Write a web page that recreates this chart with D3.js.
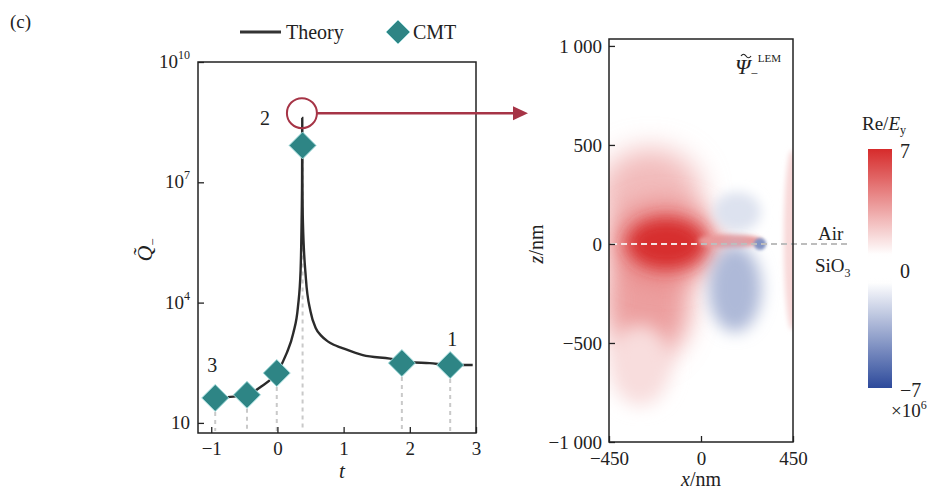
<!DOCTYPE html>
<html><head><meta charset="utf-8">
<script src="https://cdn.jsdelivr.net/npm/d3@7/dist/d3.min.js"></script>
<style>
body{margin:0;background:#fff;}
text{font-family:"Liberation Serif","Times New Roman",serif;fill:#222;}
</style></head><body>
<svg id="c" width="932" height="491"></svg>
<script>
// ---------- data ----------
const theoryT = [-1.0,-0.75,-0.46,-0.25,0.0,0.14,0.24,0.31,0.35,0.365,0.372,0.375,0.378,0.385,0.43,0.5,0.58,0.66,0.76,0.85,0.95,1.29,1.70,2.0,2.30,2.61,2.95];
const theoryQ = [40,44,50,80,190,550,1740,7800,6.3e4,1e6,1e7,4e8,1e7,1e6,4e4,6000,2300,1500,1080,890,770,490,400,330,310,277,277];
const cmtT = [-0.94,-0.46,-0.01,0.38,1.88,2.61];
const cmtQ = [42,50,175,8.3e7,310,277];
const markIdx = [0,3,5];
const markText = ["3","2","1"];
const peakT = 0.37, peakQ = 5.3e8;
const tTicks = [-1,0,1,2,3];
const qTicks = [10,1e4,1e7,1e10];
const qTickExp = ["","4","7","10"];
const xTicks = [-450,0,450];
const xTickLabels = ["\u2212450","0","450"];
const zTicks = [1000,500,0,-500,-1000];
const zTickLabels = ["1 000","500","0","\u2212500","\u22121 000"];
const cbTicks = [7,0,-7];
const cbTickLabels = ["7","0","\u22127"];
// field lobes (nm, value in 1e6 units)
const lobeX  = [-249,-259,-298, 445,-176,-170, 142, 176, 166, 289];
const lobeZ  = [ 247,-283,-611,  20,   5,   2,  15, 162,-225,   0];
const lobeRX = [ 250, 210, 150,  40, 275, 190, 157, 117, 130,  30];
const lobeRZ = [ 235, 310, 205, 455, 205, 130,  35, 101, 220,  30];
const lobeV  = [ 2.8, 3.6, 1.8, 1.9, 4.3, 6.9, 3.8,-1.8,-3.2,-4.5];

// ---------- layout ----------
const svg = d3.select("#c");
const defs = svg.append("defs");
const L = {x0:198, x1:476, y0:62, y1:433};
const R = {x0:609, x1:793, y0:39, y1:442};

const tx = d3.scaleLinear().domain([-1.2,3]).range([L.x0,L.x1]);
const qy = d3.scaleLog().domain([5.6,1e10]).range([L.y1,L.y0]);
const fx = d3.scaleLinear().domain([-450,450]).range([R.x0,R.x1]);
const fz = d3.scaleLinear().domain([-1000,1035]).range([R.y1,R.y0]);
const color = d3.scaleLinear().domain([-7,-0.8,0.8,7]).range(["#2d4a9b","#ffffff","#ffffff","#d62b2b"]);

// (c)
svg.append("text").attr("x",10).attr("y",28).attr("font-size",19).text("(c)");

// legend
const diamond = s => `M0,${-s}L${s},0L0,${s}L${-s},0Z`;
svg.append("line").attr("x1",240).attr("x2",281).attr("y1",32).attr("y2",32).attr("stroke","#333").attr("stroke-width",3);
svg.append("text").attr("x",286).attr("y",39).attr("font-size",20).text("Theory");
svg.append("path").attr("d",diamond(12)).attr("transform","translate(398,32)").attr("fill","#2e8585").attr("stroke","#a6dede").attr("stroke-width",1);
svg.append("text").attr("x",413).attr("y",39).attr("font-size",20).text("CMT");

// ---------- left plot ----------
const gl = svg.append("g");
defs.append("clipPath").attr("id","clipL").append("rect").attr("x",L.x0).attr("y",L.y0).attr("width",L.x1-L.x0).attr("height",L.y1-L.y0);
gl.selectAll("line.drop").data(cmtT).join("line").attr("class","drop")
  .attr("x1",d=>tx(d)).attr("x2",d=>tx(d))
  .attr("y1",(d,i)=>qy(cmtQ[i])+14).attr("y2",L.y1-2)
  .attr("stroke","#c9c9c9").attr("stroke-width",2).attr("stroke-dasharray","4,4");
const line = d3.line().x(d=>tx(d[0])).y(d=>qy(d[1])).curve(d3.curveMonotoneX);
gl.append("path").datum(theoryT.map((t,i)=>[t,theoryQ[i]]))
  .attr("d",line).attr("fill","none").attr("stroke","#2b2b2b").attr("stroke-width",2.4)
  .attr("clip-path","url(#clipL)");
gl.selectAll("path.cmt").data(cmtT).join("path").attr("class","cmt")
  .attr("d",diamond(13.5))
  .attr("transform",(d,i)=>`translate(${tx(d)},${qy(cmtQ[i])})`)
  .attr("fill","#2e8585").attr("stroke","#a6dede").attr("stroke-width",1);
const labOff = [[-3,-33],[-37,5],[2,-26]];
markIdx.forEach((k,j)=>{
  const cx = k===3 ? tx(peakT) : tx(cmtT[k]);
  const cy = k===3 ? qy(peakQ) : qy(cmtQ[k]);
  gl.append("text").attr("x",cx+labOff[j][0]).attr("y",cy+labOff[j][1]+7)
    .attr("text-anchor","middle").attr("font-size",20).text(markText[j]);
});
const axB = d3.axisBottom(tx).tickValues(tTicks).tickSizeInner(-6).tickSizeOuter(0).tickPadding(9)
  .tickFormat(d=> d<0 ? "\u2212"+Math.abs(d) : String(d));
const gxb = gl.append("g").attr("transform",`translate(0,${L.y1})`).call(axB);
const axLf = d3.axisLeft(qy).tickValues(qTicks).tickSizeInner(-6).tickSizeOuter(0).tickPadding(8).tickFormat("");
const gyl = gl.append("g").attr("transform",`translate(${L.x0},0)`).call(axLf);
[gxb,gyl].forEach(g=>{g.select(".domain").remove(); g.selectAll("line").attr("stroke","#222").attr("stroke-width",1.3); g.selectAll("text").attr("font-size",19).attr("fill","#222").attr("font-family","Liberation Serif");});
qTicks.forEach((q,i)=>{
  const t = gl.append("text").attr("x",L.x0-8).attr("y",qy(q)+6).attr("text-anchor","end").attr("font-size",19);
  t.append("tspan").text("10");
  if(qTickExp[i]) t.append("tspan").attr("font-size",12).attr("dy",-9).text(qTickExp[i]);
});
gl.append("rect").attr("x",L.x0).attr("y",L.y0).attr("width",L.x1-L.x0).attr("height",L.y1-L.y0)
  .attr("fill","none").attr("stroke","#222").attr("stroke-width",1.5);
gl.append("text").attr("x",(L.x0+L.x1)/2+5).attr("y",478).attr("text-anchor","middle").attr("font-size",21).attr("font-style","italic").text("t");
const ylab = gl.append("text").attr("transform","translate(152,250) rotate(-90)").attr("text-anchor","middle").attr("font-size",22).attr("font-style","italic");
ylab.append("tspan").text("Q\u0303");
ylab.append("tspan").attr("font-size",13).attr("dy",5).attr("font-style","normal").text("\u2212");

// annotation circle + arrow
const acx = tx(peakT), acy = qy(peakQ);
svg.append("circle").attr("cx",acx).attr("cy",acy).attr("r",15).attr("fill","none").attr("stroke","#a63446").attr("stroke-width",2);
svg.append("line").attr("x1",acx+15).attr("x2",R.x0-95).attr("y1",acy).attr("y2",acy).attr("stroke","#a63446").attr("stroke-width",2.5);
svg.append("path").attr("d",`M${R.x0-96},${acy-7}L${R.x0-81},${acy}L${R.x0-96},${acy+7}Z`).attr("fill","#a63446");

// ---------- right field plot ----------
const gr = svg.append("g");
defs.append("clipPath").attr("id","clipR").append("rect").attr("x",R.x0).attr("y",R.y0).attr("width",R.x1-R.x0).attr("height",R.y1-R.y0);
const field = gr.append("g").attr("clip-path","url(#clipR)");
const kx = (R.x1-R.x0)/900, kz = (R.y1-R.y0)/2035;
lobeX.forEach((x,i)=>{
  const rx = lobeRX[i]*kx, rz = lobeRZ[i]*kz;
  const sd = 0.3*Math.min(rx,rz);
  defs.append("filter").attr("id","b"+i).attr("x","-100%").attr("y","-100%").attr("width","300%").attr("height","300%")
    .append("feGaussianBlur").attr("stdDeviation",sd);
  field.append("ellipse").attr("cx",fx(x)).attr("cy",fz(lobeZ[i])).attr("rx",rx).attr("ry",rz)
    .attr("fill",color(lobeV[i])).attr("filter",`url(#b${i})`);
});
gr.append("line").attr("x1",fx(-440)).attr("x2",fx(0)).attr("y1",fz(0)).attr("y2",fz(0))
  .attr("stroke","#f4e4e4").attr("stroke-width",2).attr("stroke-dasharray","6,4");
gr.append("line").attr("x1",fx(0)).attr("x2",fx(450)+58).attr("y1",fz(0)).attr("y2",fz(0))
  .attr("stroke","#bdbdbd").attr("stroke-width",2).attr("stroke-dasharray","6,4");
const axRB = d3.axisBottom(fx).tickValues(xTicks).tickSizeInner(-6).tickSizeOuter(0).tickPadding(10).tickFormat((d,i)=>xTickLabels[i]);
const grb = gr.append("g").attr("transform",`translate(0,${R.y1})`).call(axRB);
const axRL = d3.axisLeft(fz).tickValues(zTicks).tickSizeInner(-6).tickSizeOuter(0).tickPadding(7).tickFormat((d,i)=>zTickLabels[i]);
const grl = gr.append("g").attr("transform",`translate(${R.x0},0)`).call(axRL);
[grb,grl].forEach(g=>{g.select(".domain").remove(); g.selectAll("line").attr("stroke","#222").attr("stroke-width",1.3); g.selectAll("text").attr("font-size",19).attr("fill","#222").attr("font-family","Liberation Serif");});
gr.append("rect").attr("x",R.x0).attr("y",R.y0).attr("width",R.x1-R.x0).attr("height",R.y1-R.y0)
  .attr("fill","none").attr("stroke","#222").attr("stroke-width",1.5);
const xl = gr.append("text").attr("x",fx(0)).attr("y",486).attr("text-anchor","middle").attr("font-size",20);
xl.append("tspan").attr("font-style","italic").text("x");
xl.append("tspan").text("/nm");
const zl = gr.append("text").attr("transform",`translate(543,${fz(0)}) rotate(-90)`).attr("text-anchor","middle").attr("font-size",20);
zl.append("tspan").attr("font-style","italic").text("z");
zl.append("tspan").text("/nm");
// title inside: Psi (tilde drawn as a small wave), sub minus, sup LEM
const ti = gr.append("text").attr("x",735).attr("y",74).attr("font-size",22);
ti.append("tspan").attr("font-style","italic").text("\u03A8");
ti.append("tspan").attr("font-size",13).attr("dy",4).text("\u2212");
ti.append("tspan").attr("font-size",11).attr("dy",-16).text("LEM");
gr.append("path").attr("d","M741,56 q2.5,-3.5 5,0 t5,0").attr("fill","none").attr("stroke","#222").attr("stroke-width",1.2);
// Air / SiO3
gr.append("text").attr("x",818).attr("y",240).attr("font-size",19).text("Air");
const si = gr.append("text").attr("x",815).attr("y",272).attr("font-size",19);
si.append("tspan").text("SiO");
si.append("tspan").attr("font-size",12).attr("dy",5).text("3");

// ---------- colorbar ----------
const cb = {x:868, w:24, y0:149, y1:388};
const cbScale = d3.scaleLinear().domain([-7,7]).range([cb.y1,cb.y0]);
const grad = defs.append("linearGradient").attr("id","cbg").attr("x1",0).attr("x2",0).attr("y1",0).attr("y2",1);
d3.range(0,1.0001,0.02).forEach(f=>{
  grad.append("stop").attr("offset",f).attr("stop-color",color(7-14*f));
});
svg.append("rect").attr("x",cb.x).attr("y",cb.y0).attr("width",cb.w).attr("height",cb.y1-cb.y0).attr("fill","url(#cbg)");
cbTicks.forEach((v,i)=>{
  svg.append("text").attr("x",cb.x+cb.w+8).attr("y",cbScale(v)+9).attr("font-size",20).text(cbTickLabels[i]);
});
const ct = svg.append("text").attr("x",862).attr("y",130).attr("font-size",19);
ct.append("tspan").text("Re/");
ct.append("tspan").attr("font-style","italic").text("E");
ct.append("tspan").attr("font-size",12).attr("dy",4).text("y");
const ex = svg.append("text").attr("x",891).attr("y",417).attr("font-size",19);
ex.append("tspan").text("\u00D710");
ex.append("tspan").attr("font-size",12).attr("dy",-8).text("6");
</script></body></html>
